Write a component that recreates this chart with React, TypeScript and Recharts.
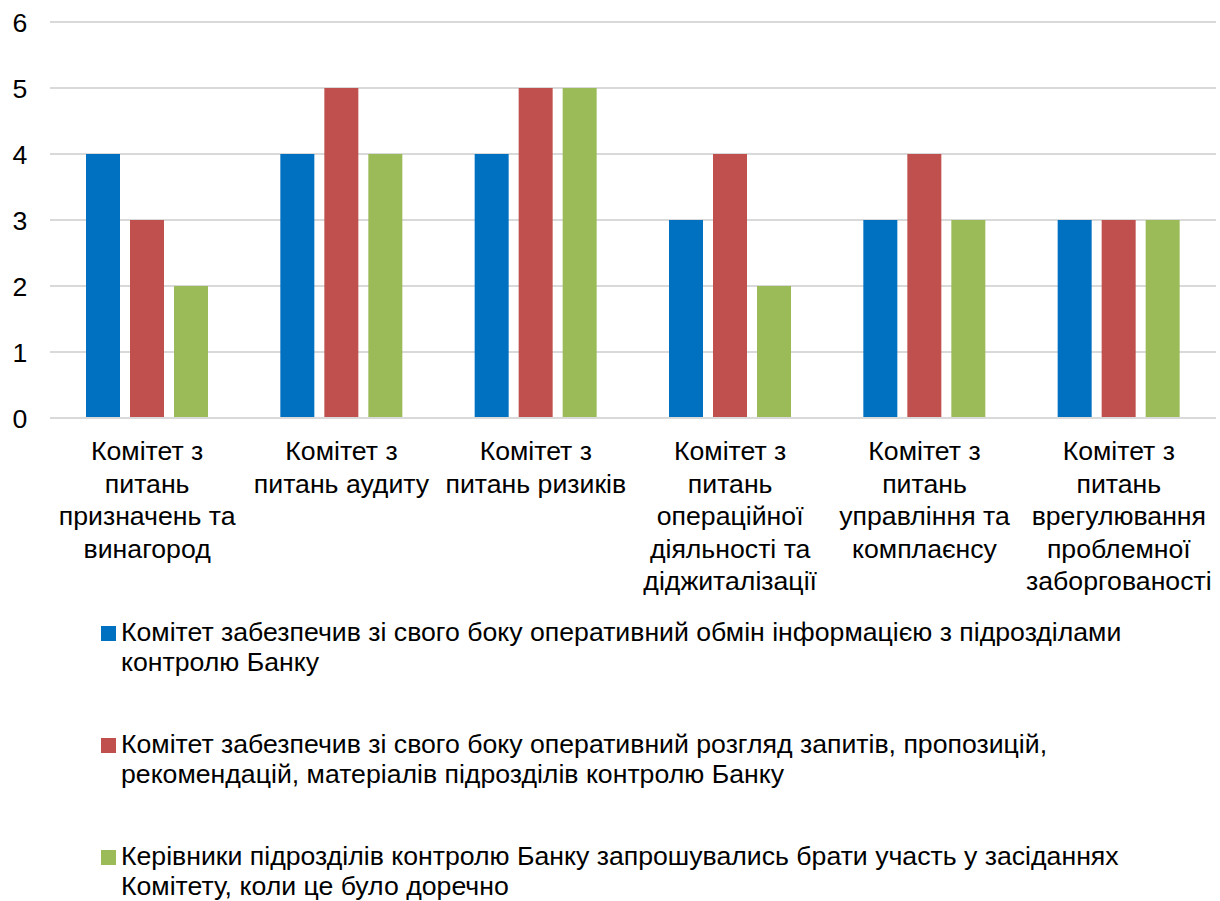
import React from 'react';
import { BarChart, Bar, XAxis, YAxis, CartesianGrid, Legend } from 'recharts';

const categories = [
  'Комітет з\nпитань\nпризначень та\nвинагород',
  'Комітет з\nпитань аудиту',
  'Комітет з\nпитань ризиків',
  'Комітет з\nпитань\nопераційної\nдіяльності та\nдіджиталізації',
  'Комітет з\nпитань\nуправління та\nкомплаєнсу',
  'Комітет з\nпитань\nврегулювання\nпроблемної\nзаборгованості',
];

const exchangeInfo = [4, 4, 4, 3, 3, 3];
const reviewRequests = [3, 5, 5, 4, 4, 3];
const invitedHeads = [2, 4, 5, 2, 3, 3];

const seriesNames = [
  'Комітет забезпечив зі свого боку оперативний обмін інформацією з підрозділами контролю Банку',
  'Комітет забезпечив зі свого боку оперативний розгляд запитів, пропозицій, рекомендацій, матеріалів підрозділів контролю Банку',
  'Керівники підрозділів контролю Банку запрошувались брати участь у засіданнях Комітету, коли це було доречно',
];

const yTicks = [0, 1, 2, 3, 4, 5, 6];

const SERIES_KEYS = ['a', 'b', 'c'];
const COLORS = ['#0070C0', '#C0504D', '#9BBB59'];
const FONT = '"Liberation Sans", Arial, sans-serif';
const FONT_SIZE = 26.67;

const data = categories.map((name, i) => ({
  name,
  a: exchangeInfo[i],
  b: reviewRequests[i],
  c: invitedHeads[i],
}));

const YTick = (props: any) => {
  const { y, payload } = props;
  return (
    <text x={20} y={y} dy={9.5} textAnchor="middle" fontSize={FONT_SIZE} fontFamily={FONT} fill="#000">
      {payload.value}
    </text>
  );
};

const XTick = (props: any) => {
  const { x, y, payload } = props;
  const lines = String(payload.value).split('\n');
  return (
    <text x={x} y={y} textAnchor="middle" fontSize={FONT_SIZE} fontFamily={FONT} fill="#000">
      {lines.map((l, i) => (
        <tspan key={i} x={x} dy={i === 0 ? 34 : 32.5}>
          {l}
        </tspan>
      ))}
    </text>
  );
};

const LegendContent = (props: any) => {
  const payload = [...(props.payload || [])].sort(
    (p: any, q: any) => SERIES_KEYS.indexOf(p.dataKey) - SERIES_KEYS.indexOf(q.dataKey)
  );
  return (
    <div style={{ fontFamily: FONT, fontSize: FONT_SIZE, color: '#000' }}>
      {payload.map((p: any, i: number) => (
        <div
          key={i}
          style={{ position: 'relative', paddingLeft: 121, height: 112, lineHeight: '30px' }}
        >
          <span
            style={{
              position: 'absolute',
              left: 101,
              top: 9,
              width: 15,
              height: 15,
              background: p.color,
            }}
          />
          <div style={{ width: 1040 }}>{p.value}</div>
        </div>
      ))}
    </div>
  );
};

export default function App() {
  return (
    <div style={{ position: 'absolute', left: 0, top: 0, background: '#fff' }}>
      <BarChart
        width={1220}
        height={901}
        data={data}
        margin={{ top: 22, right: 4, bottom: 303, left: 0 }}
        barSize={34}
        barGap={10}
      >
        <CartesianGrid vertical={false} stroke="#D9D9D9" strokeWidth={2} />
        <YAxis
          width={50}
          domain={[0, 6]}
          ticks={yTicks}
          axisLine={false}
          tickLine={false}
          tick={<YTick />}
          interval={0}
        />
        <XAxis
          dataKey="name"
          height={180}
          axisLine={{ stroke: '#D9D9D9', strokeWidth: 2 }}
          tickLine={false}
          tick={<XTick />}
          interval={0}
        />
        <Legend
          layout="vertical"
          align="center"
          verticalAlign="middle"
          content={<LegendContent />}
          wrapperStyle={{ top: 617, left: 0, width: 1220 }}
        />
        <Bar dataKey="a" name={seriesNames[0]} fill={COLORS[0]} isAnimationActive={false} />
        <Bar dataKey="b" name={seriesNames[1]} fill={COLORS[1]} isAnimationActive={false} />
        <Bar dataKey="c" name={seriesNames[2]} fill={COLORS[2]} isAnimationActive={false} />
      </BarChart>
    </div>
  );
}
